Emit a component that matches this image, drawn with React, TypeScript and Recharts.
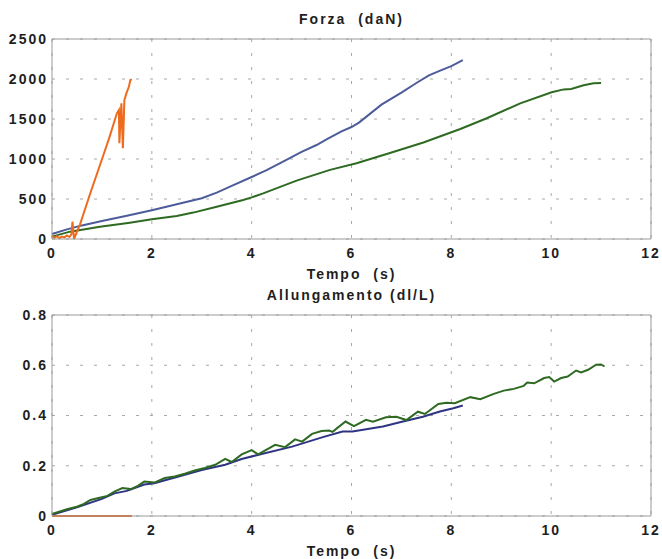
import React from 'react';
import { LineChart, Line, XAxis, YAxis, CartesianGrid, ReferenceLine } from 'recharts';

// ---- tick labels ----
const timeTicks = [0, 2, 4, 6, 8, 10, 12];
const forceTicks = [0, 500, 1000, 1500, 2000, 2500];
const elongTicks = [0, 0.2, 0.4, 0.6, 0.8];

// ---- Forza (daN) ----
const forceBlueT = [0, 0.3, 0.6, 1.0, 1.5, 2.0, 2.5, 3.0, 3.3, 3.6, 4.0, 4.3, 4.6, 5.0, 5.3, 5.5, 5.8, 6.0, 6.15, 6.3, 6.6, 7.0, 7.3, 7.55, 7.8, 8.0, 8.23];
const forceBlueV = [62, 120, 170, 225, 290, 360, 434, 510, 580, 665, 775, 860, 958, 1090, 1175, 1245, 1345, 1400, 1455, 1530, 1680, 1830, 1950, 2045, 2110, 2160, 2235];

const forceGreenT = [0, 0.36, 0.96, 1.56, 2.0, 2.5, 2.83, 3.3, 3.83, 4.0, 4.23, 4.9, 5.57, 6.1, 6.77, 7.44, 8.18, 8.71, 9.38, 10.01, 10.25, 10.4, 10.65, 10.85, 11.0];
const forceGreenV = [30, 92, 154, 204, 246, 288, 330, 404, 488, 520, 570, 730, 864, 946, 1074, 1207, 1375, 1509, 1696, 1834, 1870, 1875, 1921, 1946, 1950];

const forceOrangeT = [0, 0.05, 0.1, 0.15, 0.2, 0.25, 0.3, 0.35, 0.39, 0.41, 0.43, 0.44, 0.56, 0.76, 1.03, 1.15, 1.3, 1.34, 1.35, 1.39, 1.42, 1.45, 1.49, 1.54, 1.57, 1.6];
const forceOrangeV = [40, 15, 35, 10, 30, 20, 45, 25, 60, 216, 90, 0, 180, 560, 1050, 1270, 1571, 1612, 1197, 1696, 1135, 1737, 1820, 1903, 1987, 1995];

// ---- Allungamento (dl/L) ----
const elongGreenT = [0, 0.3, 0.5, 0.64, 0.77, 0.91, 1.11, 1.25, 1.41, 1.58, 1.72, 1.85, 2.05, 2.26, 2.46, 2.66, 2.86, 3.06, 3.27, 3.47, 3.6, 3.8, 4.0, 4.13, 4.47, 4.67, 4.87, 5.01, 5.21, 5.4, 5.55, 5.62, 5.88, 6.05, 6.29, 6.43, 6.69, 6.9, 7.1, 7.33, 7.47, 7.74, 7.9, 8.07, 8.38, 8.58, 8.85, 9.05, 9.25, 9.45, 9.52, 9.66, 9.86, 9.96, 10.06, 10.2, 10.33, 10.5, 10.6, 10.74, 10.9, 11.0, 11.07];
const elongGreenV = [0.008, 0.027, 0.037, 0.048, 0.064, 0.071, 0.08, 0.097, 0.111, 0.107, 0.12, 0.137, 0.133, 0.151, 0.157, 0.168, 0.181, 0.191, 0.204, 0.227, 0.215, 0.245, 0.262, 0.245, 0.283, 0.274, 0.305, 0.296, 0.327, 0.338, 0.34, 0.335, 0.376, 0.358, 0.383, 0.375, 0.393, 0.395, 0.382, 0.415, 0.406, 0.446, 0.451, 0.449, 0.473, 0.465, 0.486, 0.499, 0.506, 0.518, 0.531, 0.528, 0.549, 0.553, 0.535, 0.549, 0.555, 0.579, 0.571, 0.582, 0.602, 0.603, 0.595];

const elongBlueT = [0, 0.5, 1.0, 1.25, 1.5, 1.85, 2.05, 2.5, 3.0, 3.47, 3.8, 4.2, 4.81, 5.41, 5.82, 6.02, 6.63, 7.03, 7.43, 7.77, 8.04, 8.23];
const elongBlueV = [0.005, 0.035, 0.068, 0.09, 0.1, 0.125, 0.13, 0.155, 0.183, 0.204, 0.227, 0.247, 0.276, 0.313, 0.336, 0.336, 0.356, 0.376, 0.395, 0.416, 0.429, 0.44];

const elongOrangeT = [0, 1.6];
const elongOrangeV = [0, 0];

const zip = (t: number[], v: number[]) => t.map((x, i) => ({ t: x, v: v[i] }));

const BLUE_TOP = '#4d5c9a';
const BLUE_BOT = '#2f3482';
const GREEN = '#2e6a22';
const ORANGE = '#ee6a1c';
const FRAME = '#9a9a9a';
const GRID = '#a8a8a8';

const tickStyle = { fontSize: 14, fontWeight: 'bold', fill: '#1e1e1e', fontFamily: 'Liberation Sans, Arial, sans-serif', letterSpacing: 2 } as any;

const labelStyle: React.CSSProperties = {
  position: 'absolute',
  left: 52,
  width: 599,
  textAlign: 'center',
  fontSize: 14,
  lineHeight: '16px',
  fontWeight: 'bold',
  letterSpacing: 2,
  whiteSpace: 'pre',
  color: '#1e1e1e',
  fontFamily: 'Liberation Sans, Arial, sans-serif',
};

export default function App() {
  return (
    <div style={{ position: 'absolute', left: 0, top: 0, width: 662, height: 559, overflow: 'hidden', background: '#fff', fontFamily: 'Liberation Sans, Arial, sans-serif' }}>
      <div style={{ ...labelStyle, top: 11 }}>{'Forza  (daN)'}</div>
      <div style={{ ...labelStyle, top: 266 }}>{'Tempo  (s)'}</div>
      <div style={{ ...labelStyle, top: 287 }}>{'Allungamento (dl/L)'}</div>
      <div style={{ ...labelStyle, top: 543 }}>{'Tempo  (s)'}</div>

      <div style={{ position: 'absolute', left: 0, top: 0 }}>
        <LineChart width={662} height={280} margin={{ top: 39, right: 11, bottom: 0, left: 0 }}>
          <CartesianGrid stroke={GRID} strokeDasharray="3 11" />
          <XAxis type="number" dataKey="t" domain={[0, 12]} ticks={timeTicks} height={41} tickSize={0} tickMargin={9} tickLine={false} axisLine={{ stroke: FRAME }} tick={tickStyle} />
          <YAxis type="number" domain={[0, 2500]} ticks={forceTicks} width={52} tickSize={0} tickMargin={4} tickLine={false} axisLine={{ stroke: FRAME }} tick={tickStyle} />
          <ReferenceLine x={12} stroke={FRAME} />
          <ReferenceLine y={2500} stroke={FRAME} />
          <Line data={zip(forceBlueT, forceBlueV)} dataKey="v" type="linear" stroke={BLUE_TOP} strokeWidth={2} dot={false} isAnimationActive={false} />
          <Line data={zip(forceGreenT, forceGreenV)} dataKey="v" type="linear" stroke={GREEN} strokeWidth={2} dot={false} isAnimationActive={false} />
          <Line data={zip(forceOrangeT, forceOrangeV)} dataKey="v" type="linear" stroke={ORANGE} strokeWidth={2} dot={false} isAnimationActive={false} />
        </LineChart>
      </div>

      <div style={{ position: 'absolute', left: 0, top: 280 }}>
        <LineChart width={662} height={279} margin={{ top: 35, right: 11, bottom: 0, left: 0 }}>
          <CartesianGrid stroke={GRID} strokeDasharray="3 11" />
          <XAxis type="number" dataKey="t" domain={[0, 12]} ticks={timeTicks} height={43} tickSize={0} tickMargin={9} tickLine={false} axisLine={{ stroke: FRAME }} tick={tickStyle} />
          <YAxis type="number" domain={[0, 0.8]} ticks={elongTicks} width={52} tickSize={0} tickMargin={4} tickLine={false} axisLine={{ stroke: FRAME }} tick={tickStyle} />
          <ReferenceLine x={12} stroke={FRAME} />
          <ReferenceLine y={0.8} stroke={FRAME} />
          <Line data={zip(elongBlueT, elongBlueV)} dataKey="v" type="linear" stroke={BLUE_BOT} strokeWidth={2} dot={false} isAnimationActive={false} />
          <Line data={zip(elongGreenT, elongGreenV)} dataKey="v" type="linear" stroke={GREEN} strokeWidth={2} dot={false} isAnimationActive={false} />
          <Line data={zip(elongOrangeT, elongOrangeV)} dataKey="v" type="linear" stroke={ORANGE} strokeWidth={2} dot={false} isAnimationActive={false} />
        </LineChart>
      </div>
    </div>
  );
}
